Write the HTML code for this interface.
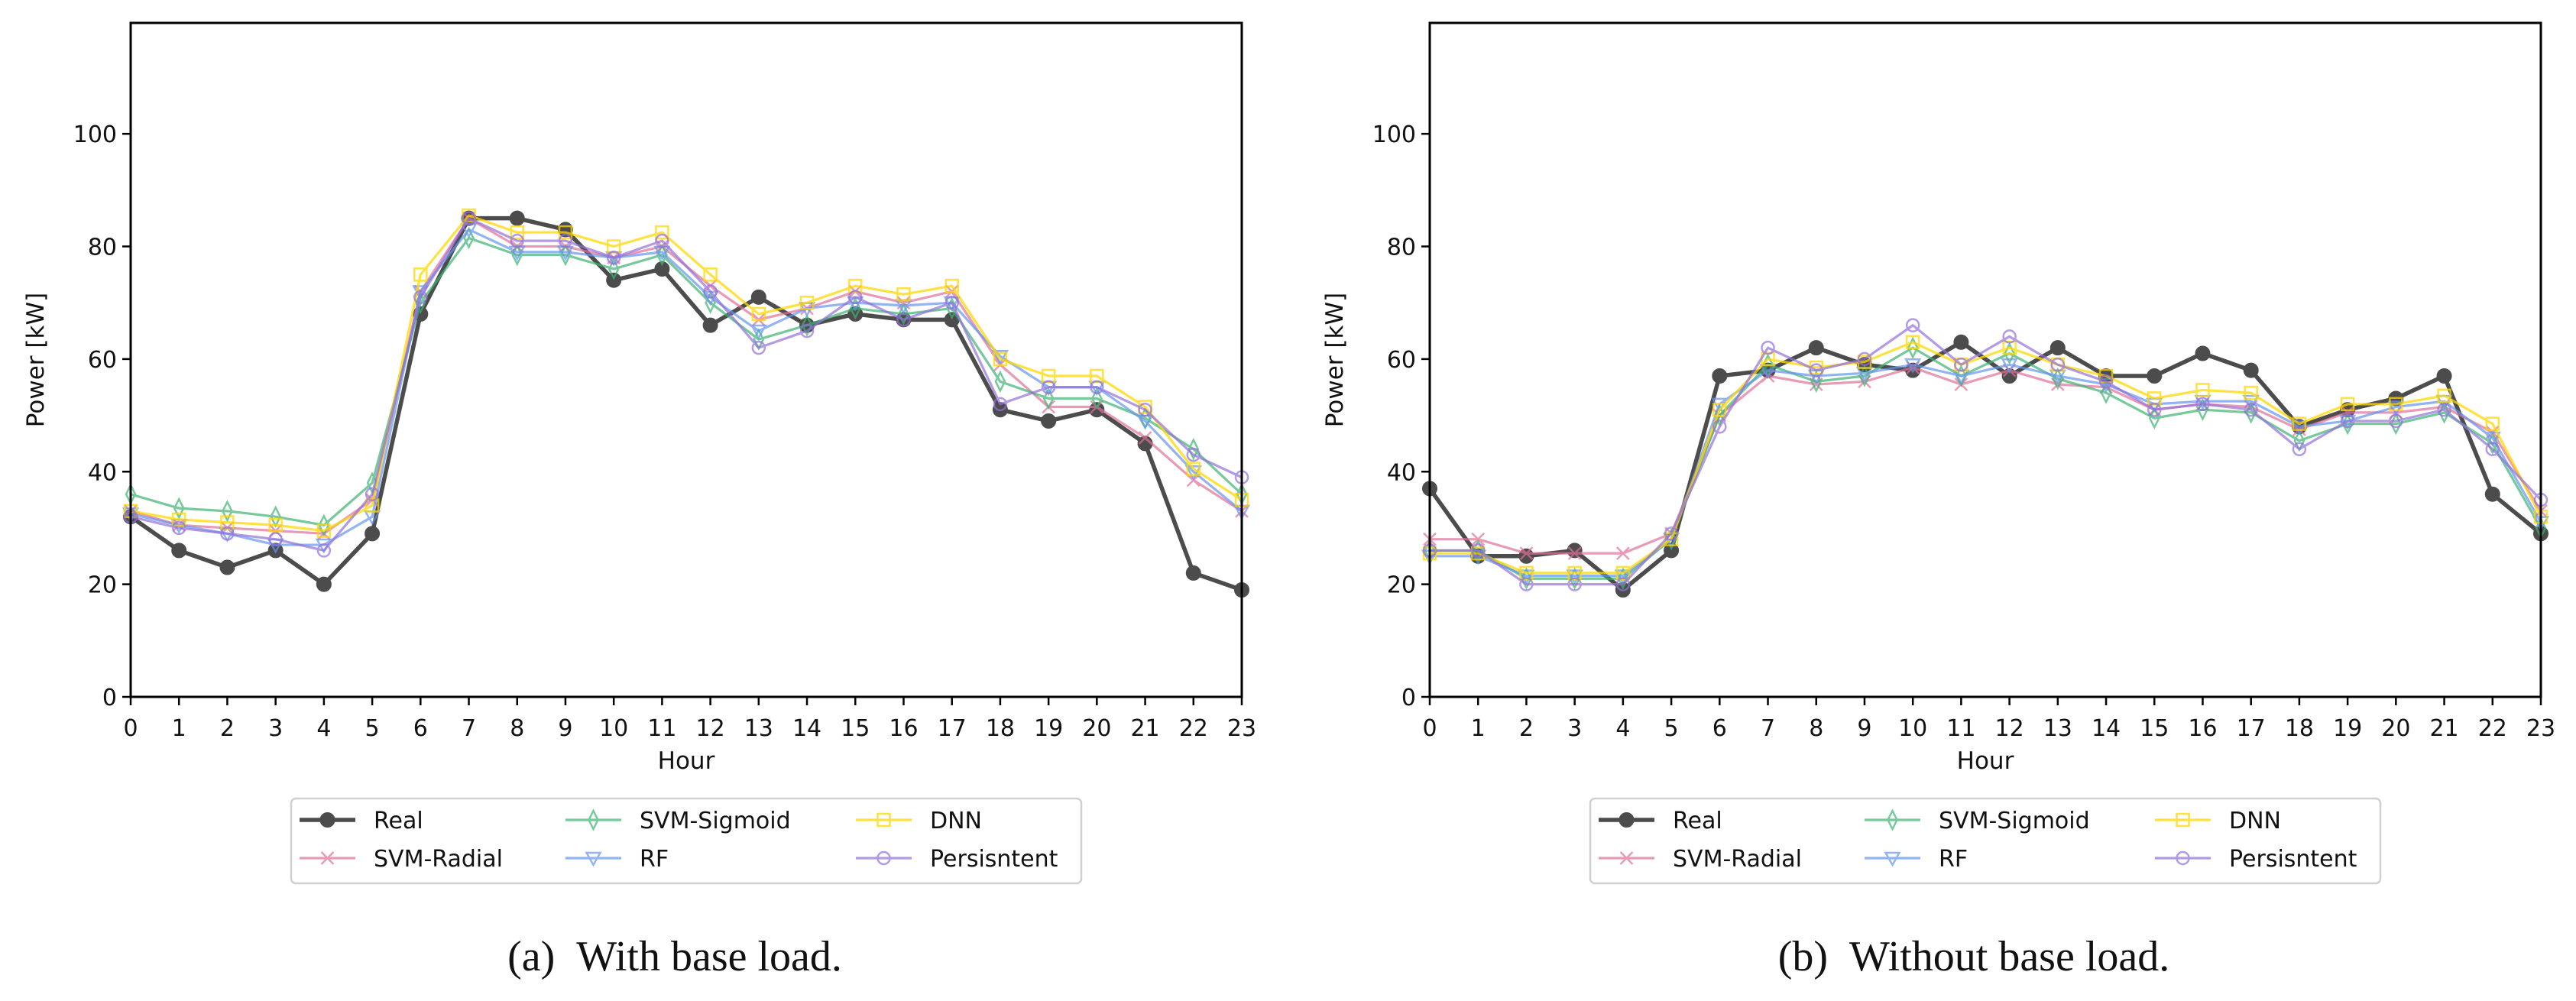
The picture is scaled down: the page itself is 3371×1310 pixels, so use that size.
<!DOCTYPE html>
<html><head><meta charset="utf-8">
<style>
html,body{margin:0;padding:0;background:#fff;}
svg{display:block;}
text{font-family:"DejaVu Sans","Liberation Sans",sans-serif;fill:#111;}
.cap{font-family:"Liberation Serif",serif;}
</style></head>
<body>
<svg id="chart" width="3371" height="1310" viewBox="0 0 3371 1310" xmlns="http://www.w3.org/2000/svg"></svg>
<script>
const hours = [0,1,2,3,4,5,6,7,8,9,10,11,12,13,14,15,16,17,18,19,20,21,22,23];
const yTicks = [0,20,40,60,80,100];
const seriesNames = ["Real","SVM-Radial","SVM-Sigmoid","RF","DNN","Persisntent"];
const captions = ["(a)\u00a0\u00a0With base load.","(b)\u00a0\u00a0Without base load."];
// Panel (a)
const aReal    = [32,26,23,26,20,29,68,85,85,83,74,76,66,71,66,68,67,67,51,49,51,45,22,19];
const aRadial  = [33,30.5,30,29.5,29,35,72,85,80,80,78,80,73,67,69,72,70,72,59,51.5,51.5,46,38.5,33];
const aSigmoid = [36,33.5,33,32,30.5,38,70,81.5,78.5,78.5,76,78.5,70,63.5,66,69,68,69,56,53,53,49.5,44,36];
const aRF      = [32.5,30.5,29,27,27,32,72,83,79,79,78,79,71,65,69,70,69.5,70,60.5,55,55,49,40,33];
const aDNN     = [33,31.5,31,30.5,29.5,34,75,85.5,82.5,82.5,80,82.5,75,68,70,73,71.5,73,60,57,57,51.5,40.5,35];
const aPers    = [32,30,29,28,26,36,71,85,81,81,78,81,72,62,65,71,67,70,52,55,55,51,43,39];
// Panel (b)
const bReal    = [37,25,25,26,19,26,57,58,62,59,58,63,57,62,57,57,61,58,48,51,53,57,36,29];
const bRadial  = [28,28,25.5,25.5,25.5,29,50,57,55.5,56,58.5,55.5,58,55.5,55,51,52,51.5,47.5,50.5,50.5,51.5,47,33];
const bSigmoid = [26,26,21,21,21,28,50,59,56,57,62,57,61,56.5,54,49.5,51,50.5,45.5,48.5,48.5,50.5,45,30];
const bRF      = [25,25,21.5,21.5,21.5,28,52,58,57,57.5,59,57,59,57,55.5,52,52.5,52.5,48,49,51.5,52.5,46,31];
const bDNN     = [25.5,25.5,22,22,22,28,51,60,58.5,59.5,63,59,62,59,57,53,54.5,54,48.5,52,52,53.5,48.5,32];
const bPers    = [26,26,20,20,20,29,48,62,58,60,66,59,64,59,56,51,52,51,44,49,49,51,44,35];

const NS = "http://www.w3.org/2000/svg";
const svg = document.getElementById('chart');
function el(tag, attrs, parent){
  const e = document.createElementNS(NS, tag);
  for (const k in attrs) e.setAttribute(k, attrs[k]);
  (parent||svg).appendChild(e);
  return e;
}
const styles = [
  {c:"#111111", a:0.75, w:5.5, m:"circle"},
  {c:"#e0709a", a:0.7, w:3.2, m:"x"},
  {c:"#3cb371", a:0.7, w:3.2, m:"diamond"},
  {c:"#6495ed", a:0.7, w:3.2, m:"tri"},
  {c:"#ffd700", a:0.75, w:3.2, m:"square"},
  {c:"#9370db", a:0.7, w:3.2, m:"ocircle"}
];
function marker(g, type, x, y, s){
  if (type==="circle") return el('circle',{cx:x,cy:y,r:9,fill:s.c,stroke:s.c,'stroke-width':2},g);
  if (type==="ocircle") return el('circle',{cx:x,cy:y,r:8,fill:'none',stroke:s.c,'stroke-width':2.5},g);
  if (type==="square") return el('rect',{x:x-8,y:y-8,width:16,height:16,fill:'none',stroke:s.c,'stroke-width':2.5},g);
  if (type==="diamond") return el('polygon',{points:`${x},${y-12} ${x+6},${y} ${x},${y+12} ${x-6},${y}`,fill:'none',stroke:s.c,'stroke-width':2.5},g);
  if (type==="tri") return el('polygon',{points:`${x-9},${y-7} ${x+9},${y-7} ${x},${y+9}`,fill:'none',stroke:s.c,'stroke-width':2.5},g);
  if (type==="x") return el('path',{d:`M${x-8},${y-8}L${x+8},${y+8}M${x-8},${y+8}L${x+8},${y-8}`,fill:'none',stroke:s.c,'stroke-width':2.5},g);
}
function drawPanel(off, data, caption, tag){
  const L=171+off, R=1625+off, T=30, B=912, YMAX=119.7;
  const xs = h => L + (R-L)*h/23;
  const ys = v => B - (B-T)*v/YMAX;
  const panel = el('g',{});
  
  
  const plot = el('rect',{x:L,y:T,width:R-L,height:B-T,fill:'#fff',stroke:'none'},panel);
  
  
  data.forEach((vals, i) => {
    const s = styles[i];
    const g = el('g',{opacity:s.a},panel);
    
    
    const pts = vals.map((v,j)=>xs(hours[j])+','+ys(v)).join(' ');
    el('polyline',{points:pts,fill:'none',stroke:s.c,'stroke-width':s.w,'stroke-linejoin':'round'},g);
    vals.forEach((v,j)=>{
      const m = marker(g, s.m, xs(hours[j]), ys(v), s);
      
      
    });
  });
  const fr = el('rect',{x:L,y:T,width:R-L,height:B-T,fill:'none',stroke:'#000','stroke-width':3},panel);
  
  
  hours.forEach(h=>{
    el('line',{x1:xs(h),y1:B,x2:xs(h),y2:B+11,stroke:'#000','stroke-width':2.5},panel);
    const t = el('text',{x:xs(h),y:B+51,'font-size':30,'text-anchor':'middle'},panel);
    t.textContent = h;
    
    
  });
  yTicks.forEach(v=>{
    el('line',{x1:L-11,y1:ys(v),x2:L,y2:ys(v),stroke:'#000','stroke-width':2.5},panel);
    const t = el('text',{x:L-18,y:ys(v)+11,'font-size':30,'text-anchor':'end'},panel);
    t.textContent = v;
    
    
  });
  const xl = el('text',{x:(L+R)/2,y:1006,'font-size':31,'text-anchor':'middle'},panel);
  xl.textContent = 'Hour';
  
  
  const yl = el('text',{x:0,y:0,'font-size':31,'text-anchor':'middle',transform:`translate(${off+57},${(T+B)/2}) rotate(-90)`},panel);
  yl.textContent = 'Power [kW]';
  
  
  const lg = el('g',{},panel);
  
  
  el('rect',{x:381+off,y:1045,width:1034,height:111,rx:6,fill:'#fff',stroke:'#d0d0d0','stroke-width':2.5},lg);
  const colX = [392,740,1120];
  const rowY = [1073,1123];
  const order = [[0,0],[1,0],[0,1],[1,1],[0,2],[1,2]];
  seriesNames.forEach((n,i)=>{
    const [r,c] = order[i];
    const s = styles[i];
    const x0 = colX[c]+off, y0 = rowY[r];
    const e = el('g',{},lg);
    
    
    const hg = el('g',{opacity:s.a},e);
    el('line',{x1:x0,y1:y0,x2:x0+73,y2:y0,stroke:s.c,'stroke-width':s.w},hg);
    marker(hg, s.m, x0+36.5, y0, s);
    const t = el('text',{x:x0+97,y:y0+11,'font-size':30},e);
    t.textContent = n;
  });
  const cp = el('text',{x:(L+R)/2 - 15,y:1270,'font-size':56,'text-anchor':'middle',class:'cap'},panel);
  cp.textContent = caption;
  
  
}
drawPanel(0, [aReal,aRadial,aSigmoid,aRF,aDNN,aPers], captions[0], 'a');
drawPanel(1700, [bReal,bRadial,bSigmoid,bRF,bDNN,bPers], captions[1], 'b');
</script>
</body></html>
